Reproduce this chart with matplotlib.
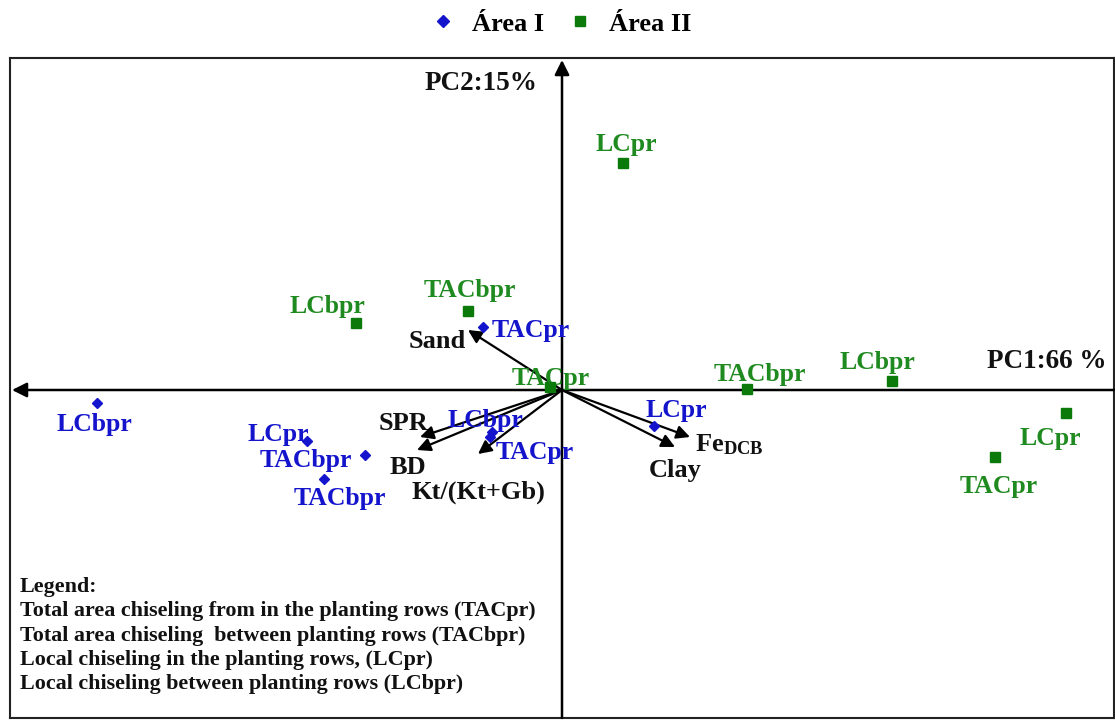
import matplotlib
matplotlib.use("Agg")
import matplotlib.pyplot as plt
from matplotlib.lines import Line2D

# ---------------- data ----------------
area1_labels = ["LCbpr", "LCpr", "TACbpr", "TACbpr", "TACpr", "LCbpr", "TACpr", "LCpr"]
area1_pc1 = [-4.65, -2.55, -1.97, -2.38, -0.79, -0.70, -0.72, 0.92]
area1_pc2 = [-0.13, -0.51, -0.65, -0.89, 0.63, -0.42, -0.47, -0.36]

area2_labels = ["LCpr", "TACbpr", "LCbpr", "TACpr", "TACbpr", "LCbpr", "LCpr", "TACpr"]
area2_pc1 = [0.61, -0.94, -2.06, -0.12, 1.85, 3.30, 5.04, 4.33]
area2_pc2 = [2.27, 0.79, 0.67, 0.03, 0.01, 0.09, -0.23, -0.67]

var_labels = ["Sand", "SPR", "BD", "Kt/(Kt+Gb)", r"Fe$_{\mathrm{DCB}}$", "Clay"]
var_pc1 = [-0.94, -1.42, -1.45, -0.84, 1.28, 1.13]
var_pc2 = [0.60, -0.47, -0.60, -0.64, -0.47, -0.57]

series_names = ["Área I", "Área II"]
pc1_title = "PC1:66 %"
pc2_title = "PC2:15%"
legend_lines = [
    "Legend:",
    "Total area chiseling from in the planting rows (TACpr)",
    "Total area chiseling  between planting rows (TACbpr)",
    "Local chiseling in the planting rows, (LCpr)",
    "Local chiseling between planting rows (LCbpr)",
]

# ---------------- style ----------------
plt.rcParams["font.family"] = ["Liberation Serif", "DejaVu Serif"]
plt.rcParams["font.weight"] = "bold"
plt.rcParams["mathtext.fontset"] = "custom"
plt.rcParams["mathtext.rm"] = "Liberation Serif:bold"
plt.rcParams["mathtext.bf"] = "Liberation Serif:bold"
plt.rcParams["mathtext.it"] = "Liberation Serif:bold:italic"

BLUE = "#1414cc"
GREEN = "#1f8a1f"
GREEN_MK = "#0b7a0b"

W, H = 1115, 720
fig = plt.figure(figsize=(W / 100, H / 100), dpi=100)
x0, y0, x1, y1 = 10, 58, 1114, 718
ax = fig.add_axes([x0 / W, 1 - y1 / H, (x1 - x0) / W, (y1 - y0) / H])
ax.set_xlim(-5.52, 5.52)
ax.set_ylim(-3.28, 3.32)
ax.set_xticks([])
ax.set_yticks([])
for s in ax.spines.values():
    s.set_linewidth(1.5)
    s.set_color("#222222")

# axis arrows
ax.annotate("", xy=(-5.50, 0), xytext=(5.52, 0),
            arrowprops=dict(arrowstyle="-|>", lw=1.8, color="black",
                            mutation_scale=22, shrinkA=0, shrinkB=0))
ax.annotate("", xy=(0, 3.30), xytext=(0, -3.28),
            arrowprops=dict(arrowstyle="-|>", lw=1.8, color="black",
                            mutation_scale=22, shrinkA=0, shrinkB=0))

# variable vectors
for x, y in zip(var_pc1, var_pc2):
    ax.annotate("", xy=(x, y), xytext=(0, 0),
                arrowprops=dict(arrowstyle="-|>", lw=1.6, color="black",
                                mutation_scale=20, shrinkA=0, shrinkB=0))

var_offsets = [(-31, -12), (-17, 14), (-9, -17), (0, -38), (5, -8), (0, -23)]
var_ha = ["center", "center", "center", "center", "left", "center"]
for lab, x, y, off, ha in zip(var_labels, var_pc1, var_pc2, var_offsets, var_ha):
    ax.annotate(lab, xy=(x, y), xytext=off, textcoords="offset pixels",
                ha=ha, va="center", fontsize=19, fontweight="bold", color="#111111")

# scores
ax.plot(area1_pc1, area1_pc2, linestyle="none", marker="D", ms=5.5,
        color=BLUE, zorder=5)
ax.plot(area2_pc1, area2_pc2, linestyle="none", marker="s", ms=7,
        color=GREEN_MK, zorder=5)

a1_off = [(-3, -22), (-29, 6), (-59, -5), (16, -19), (48, -3), (-7, 11), (45, -16), (22, 16)]
a2_off = [(3, 18), (2, 21), (-29, 16), (1, 9), (13, 14), (-15, 19), (-16, -25), (4, -30)]
for lab, x, y, off in zip(area1_labels, area1_pc1, area1_pc2, a1_off):
    ax.annotate(lab, xy=(x, y), xytext=off, textcoords="offset pixels",
                ha="center", va="center", fontsize=18.5, fontweight="bold", color=BLUE)
for lab, x, y, off in zip(area2_labels, area2_pc1, area2_pc2, a2_off):
    ax.annotate(lab, xy=(x, y), xytext=off, textcoords="offset pixels",
                ha="center", va="center", fontsize=18.5, fontweight="bold", color=GREEN)

# axis titles
ax.text((481 - 562) / 100, (390 - 83) / 100, pc2_title, ha="center", va="center",
        fontsize=19.5, fontweight="bold", color="#111111")
ax.text((1047 - 562) / 100, (390 - 362) / 100, pc1_title, ha="center", va="center",
        fontsize=19.5, fontweight="bold", color="#111111")

# explanatory legend text
for i, line in enumerate(legend_lines):
    ax.text((20 - 562) / 100, (390 - (587 + 24.3 * i)) / 100, line, ha="left",
            va="center", fontsize=15.8, fontweight="bold", color="#111111")

# top legend
handles = [
    Line2D([], [], linestyle="none", marker="D", ms=6, color=BLUE),
    Line2D([], [], linestyle="none", marker="s", ms=7, color=GREEN_MK),
]
fig.legend(handles, series_names, loc="center", bbox_to_anchor=(0.503, 1 - 24 / H),
           ncol=2, frameon=False, prop=dict(size=19, weight="bold"),
           handlelength=1.0, handletextpad=0.6, columnspacing=0.85)

fig.savefig("out.png", dpi=100)
